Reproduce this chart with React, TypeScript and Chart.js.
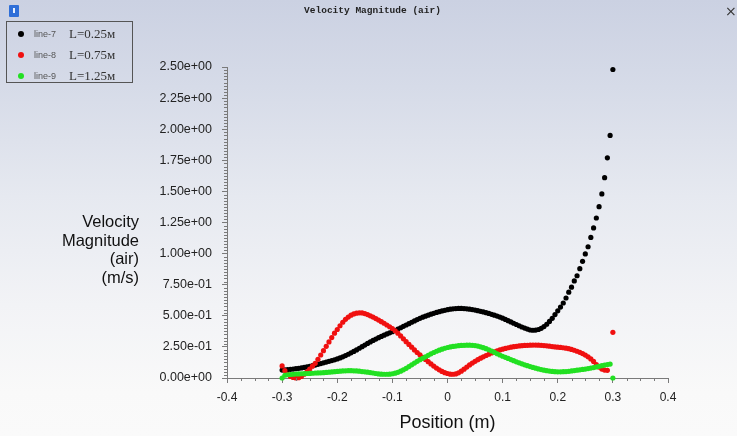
import React, { useEffect, useRef } from 'react';
import { Chart, registerables } from 'chart.js';

Chart.register(...registerables);

// Position along the line (m)
const positions = [
  -0.300, -0.295, -0.290, -0.285, -0.280, -0.275, -0.270, -0.265, -0.260, -0.255,
  -0.250, -0.245, -0.240, -0.235, -0.230, -0.225, -0.220, -0.215, -0.210, -0.205,
  -0.200, -0.195, -0.190, -0.185, -0.180, -0.175, -0.170, -0.165, -0.160, -0.155,
  -0.150, -0.145, -0.140, -0.135, -0.130, -0.125, -0.120, -0.115, -0.110, -0.105,
  -0.100, -0.095, -0.090, -0.085, -0.080, -0.075, -0.070, -0.065, -0.060, -0.055,
  -0.050, -0.045, -0.040, -0.035, -0.030, -0.025, -0.020, -0.015, -0.010, -0.005,
  0.000, 0.005, 0.010, 0.015, 0.020, 0.025, 0.030, 0.035, 0.040, 0.045,
  0.050, 0.055, 0.060, 0.065, 0.070, 0.075, 0.080, 0.085, 0.090, 0.095,
  0.100, 0.105, 0.110, 0.115, 0.120, 0.125, 0.130, 0.135, 0.140, 0.145,
  0.150, 0.155, 0.160, 0.165, 0.170, 0.175, 0.180, 0.185, 0.190, 0.195,
  0.200, 0.205, 0.210, 0.215, 0.220, 0.225, 0.230, 0.235, 0.240, 0.245,
  0.250, 0.255, 0.260, 0.265, 0.270, 0.275, 0.280, 0.285, 0.290, 0.295,
  0.300,
];

// Velocity magnitude (m/s), line-7 (L=0.25m)
const line7: (number | null)[] = [
  0.064, 0.066, 0.068, 0.070, 0.072, 0.075, 0.078, 0.081, 0.085, 0.089,
  0.094, 0.099, 0.104, 0.110, 0.116, 0.122, 0.128, 0.134, 0.140, 0.146,
  0.153, 0.161, 0.170, 0.180, 0.191, 0.202, 0.214, 0.226, 0.239, 0.252,
  0.265, 0.278, 0.290, 0.302, 0.313, 0.324, 0.334, 0.344, 0.354, 0.363,
  0.372, 0.382, 0.393, 0.404, 0.415, 0.426, 0.437, 0.448, 0.459, 0.470,
  0.480, 0.489, 0.497, 0.505, 0.513, 0.520, 0.527, 0.533, 0.539, 0.544,
  0.549, 0.553, 0.556, 0.558, 0.559, 0.559, 0.558, 0.556, 0.553, 0.550,
  0.546, 0.541, 0.536, 0.531, 0.525, 0.519, 0.512, 0.505, 0.498, 0.490,
  0.481, 0.471, 0.461, 0.451, 0.440, 0.430, 0.420, 0.410, 0.401, 0.393,
  0.386, 0.384, 0.385, 0.390, 0.399, 0.413, 0.432, 0.455, 0.480, 0.510,
  0.540, 0.570, 0.603, 0.643, 0.690, 0.730, 0.780, 0.822, 0.879, 0.938,
  0.997, 1.055, 1.130, 1.206, 1.286, 1.377, 1.480, 1.610, 1.770, 1.950,
  2.480,
];

// line-8 (L=0.75m)
const line8: (number | null)[] = [
  0.097, 0.060, 0.030, 0.012, 0.004, 0.000, 0.002, 0.012, 0.030, 0.050,
  0.072, 0.095, 0.118, 0.150, 0.185, 0.220, 0.255, 0.290, 0.325, 0.360,
  0.390, 0.420, 0.448, 0.472, 0.490, 0.505, 0.515, 0.521, 0.524, 0.523,
  0.518, 0.510, 0.500, 0.490, 0.478, 0.466, 0.453, 0.440, 0.426, 0.412,
  0.398, 0.380, 0.360, 0.338, 0.315, 0.292, 0.270, 0.248, 0.226, 0.205,
  0.186, 0.167, 0.149, 0.131, 0.113, 0.096, 0.080, 0.066, 0.053, 0.043,
  0.036, 0.031, 0.030, 0.033, 0.042, 0.055, 0.071, 0.088, 0.105, 0.120,
  0.134, 0.147, 0.159, 0.170, 0.181, 0.191, 0.201, 0.210, 0.218, 0.226,
  0.232, 0.238, 0.243, 0.248, 0.252, 0.255, 0.258, 0.260, 0.262, 0.263,
  0.264, 0.265, 0.265, 0.264, 0.263, 0.261, 0.259, 0.256, 0.253, 0.250,
  0.248, 0.246, 0.243, 0.240, 0.236, 0.230, 0.223, 0.215, 0.206, 0.196,
  0.184, 0.170, 0.153, 0.133, 0.108, 0.088, 0.072, 0.064, 0.062, null,
  0.367,
];

// line-9 (L=1.25m)
const line9: (number | null)[] = [
  0.000, 0.022, 0.026, 0.028, 0.030, 0.032, 0.033, 0.034, 0.035, 0.036,
  0.037, 0.038, 0.040, 0.041, 0.042, 0.043, 0.045, 0.047, 0.049, 0.051,
  0.053, 0.055, 0.057, 0.058, 0.059, 0.059, 0.058, 0.057, 0.055, 0.052,
  0.050, 0.047, 0.044, 0.040, 0.036, 0.033, 0.031, 0.030, 0.030, 0.031,
  0.034, 0.039, 0.046, 0.055, 0.066, 0.078, 0.092, 0.106, 0.120, 0.134,
  0.147, 0.158, 0.170, 0.182, 0.194, 0.205, 0.215, 0.224, 0.232, 0.239,
  0.245, 0.250, 0.254, 0.257, 0.260, 0.262, 0.263, 0.264, 0.264, 0.263,
  0.261, 0.257, 0.251, 0.244, 0.236, 0.227, 0.217, 0.206, 0.195, 0.185,
  0.175, 0.166, 0.157, 0.148, 0.139, 0.130, 0.122, 0.114, 0.106, 0.099,
  0.092, 0.085, 0.079, 0.073, 0.068, 0.063, 0.059, 0.056, 0.053, 0.051,
  0.050, 0.050, 0.051, 0.052, 0.054, 0.057, 0.060, 0.063, 0.066, 0.069,
  0.072, 0.076, 0.080, 0.084, 0.089, 0.094, 0.099, 0.104, 0.108, 0.112,
  0.000,
];

const seriesNames = ['line-7', 'line-8', 'line-9'];
const seriesLabels = ['L=0.25м', 'L=0.75м', 'L=1.25м'];
const seriesValues = [line7, line8, line9];
const seriesColors = ['#000000', '#f01010', '#22e022'];

const xMin = -0.4;
const xMax = 0.4;
const xStep = 0.1;
const yMin = 0;
const yMax = 2.5;
const yStep = 0.25;
const xMinorDiv = 4;
const yMinorDiv = 10;

const chartTitle = 'Velocity Magnitude (air)';
const xTitle = 'Position (m)';
const yTitleLines = ['Velocity', 'Magnitude', '(air)', '(m/s)'];

const axisColor = '#7a7a7a';
const W = 737;
const H = 436;

function fmtExp(v: number): string {
  const s = v.toExponential(2);
  const [m, e] = s.split('e');
  const sign = e[0] === '-' ? '-' : '+';
  const digits = e.replace(/[+-]/, '').padStart(2, '0');
  return `${m}e${sign}${digits}`;
}

const minorTicks = {
  id: 'minorTicks',
  afterDraw(chart: any) {
    const { ctx, scales } = chart;
    const x = scales.x;
    const y = scales.y;
    ctx.save();
    ctx.strokeStyle = axisColor;
    ctx.lineWidth = 1;
    ctx.beginPath();
    const ny = Math.round(((yMax - yMin) / yStep) * yMinorDiv);
    for (let i = 0; i <= ny; i++) {
      if (i % yMinorDiv === 0) continue;
      const py = Math.round(y.getPixelForValue(yMin + (i * yStep) / yMinorDiv)) + 0.5;
      ctx.moveTo(x.left - 3, py);
      ctx.lineTo(x.left, py);
    }
    const nx = Math.round(((xMax - xMin) / xStep) * xMinorDiv);
    for (let i = 0; i <= nx; i++) {
      if (i % xMinorDiv === 0) continue;
      const px = Math.round(x.getPixelForValue(xMin + (i * xStep) / xMinorDiv)) + 0.5;
      ctx.moveTo(px, y.bottom);
      ctx.lineTo(px, y.bottom + 3);
    }
    ctx.stroke();
    ctx.restore();
  },
};

export default function App() {
  const ref = useRef<HTMLCanvasElement | null>(null);

  useEffect(() => {
    if (!ref.current) return;
    const datasets = seriesValues.map((vals, si) => ({
      label: seriesNames[si],
      data: positions
        .map((x, i) => ({ x, y: vals[i] }))
        .filter((p) => p.y !== null),
      backgroundColor: seriesColors[si],
      borderColor: seriesColors[si],
      pointRadius: 2.6,
      pointBorderWidth: 0,
      showLine: false,
      clip: false as any,
      order: 3 - si,
    }));
    const chart = new Chart(ref.current, {
      type: 'scatter',
      data: { datasets: datasets as any },
      options: {
        animation: false,
        responsive: false,
        devicePixelRatio: 1,
        layout: { padding: { top: 67, right: 69, bottom: 0, left: 0 } },
        plugins: {
          legend: { display: false },
          tooltip: { enabled: false },
          title: { display: false },
        },
        scales: {
          x: {
            type: 'linear',
            min: xMin,
            max: xMax,
            afterFit(scale: any) {
              scale.height = 58;
            },
            ticks: {
              stepSize: xStep,
              autoSkip: false,
              maxRotation: 0,
              padding: 7,
              color: '#222',
              font: { family: 'Liberation Sans', size: 12 },
              callback: (v: any) => String(Math.round(Number(v) * 10) / 10),
            },
            grid: {
              display: true,
              drawOnChartArea: false,
              drawTicks: true,
              tickLength: 5,
              color: axisColor,
            },
            border: { display: true, color: axisColor, width: 1 },
            title: {
              display: true,
              text: xTitle,
              color: '#111',
              font: { family: 'Liberation Sans', size: 18, lineHeight: 1.2 },
              padding: { top: 0, bottom: 2 },
            },
          },
          y: {
            type: 'linear',
            min: yMin,
            max: yMax,
            afterFit(scale: any) {
              scale.width = 227;
            },
            ticks: {
              stepSize: yStep,
              autoSkip: false,
              padding: 10,
              color: '#222',
              font: { family: 'Liberation Sans', size: 12.5 },
              callback: (v: any) => fmtExp(Number(v)),
            },
            grid: {
              display: true,
              drawOnChartArea: false,
              drawTicks: true,
              tickLength: 5,
              color: axisColor,
            },
            border: { display: true, color: axisColor, width: 1 },
          },
        },
      },
      plugins: [minorTicks],
    });
    return () => chart.destroy();
  }, []);

  return (
    <div
      style={{
        position: 'fixed',
        left: 0,
        top: 0,
        width: W,
        height: H,
        overflow: 'hidden',
        background:
          'linear-gradient(180deg, #cbd1e2 0%, #d6dbe8 20%, #e6e9f0 45%, #f2f3f6 70%, #f9f9f9 90%, #fafafa 100%)',
      }}
    >
      <canvas
        ref={ref}
        width={W}
        height={H}
        style={{ position: 'absolute', left: 0, top: 0, width: W, height: H }}
      />
      {/* window icon */}
      <div
        style={{
          position: 'absolute',
          left: 9,
          top: 5,
          width: 10,
          height: 12,
          background: '#2f6fd8',
          borderRadius: 1,
        }}
      >
        <div style={{ position: 'absolute', left: 4, top: 3, width: 2, height: 5, background: '#e8f0ff' }} />
      </div>
      {/* title */}
      <div
        style={{
          position: 'absolute',
          left: 0,
          top: 4,
          width: W,
          textAlign: 'center',
          fontFamily: 'Liberation Mono, DejaVu Sans Mono, monospace',
          fontWeight: 'bold',
          fontSize: 9.5,
          lineHeight: '14px',
          color: '#222',
          paddingLeft: 8,
          boxSizing: 'border-box',
        }}
      >
        {chartTitle}
      </div>
      <div
        style={{
          position: 'absolute',
          left: 725,
          top: 3,
          fontFamily: 'DejaVu Sans, sans-serif',
          fontSize: 14,
          lineHeight: '16px',
          color: '#333',
        }}
      >
        ×
      </div>
      {/* legend */}
      <div
        style={{
          position: 'absolute',
          left: 6,
          top: 21,
          width: 127,
          height: 62,
          border: '1px solid #555',
          boxSizing: 'border-box',
        }}
      >
        {seriesNames.map((n, i) => (
          <div key={n} style={{ position: 'absolute', left: 0, top: 2 + i * 21, height: 20, width: 124 }}>
            <div
              style={{
                position: 'absolute',
                left: 11,
                top: 7,
                width: 6,
                height: 6,
                borderRadius: 3,
                background: seriesColors[i],
              }}
            />
            <div
              style={{
                position: 'absolute',
                left: 27,
                top: 3,
                fontFamily: 'Liberation Sans, Arial, sans-serif',
                fontSize: 9,
                lineHeight: '14px',
                color: '#555',
              }}
            >
              {n}
            </div>
            <div
              style={{
                position: 'absolute',
                left: 62,
                top: 1,
                fontFamily: 'Liberation Serif, Times New Roman, serif',
                fontSize: 13,
                lineHeight: '17px',
                color: '#333',
              }}
            >
              {seriesLabels[i]}
            </div>
          </div>
        ))}
      </div>
      {/* y axis title */}
      <div
        style={{
          position: 'absolute',
          left: 0,
          top: 212,
          width: 139,
          textAlign: 'right',
          fontFamily: 'Liberation Sans, Arial, sans-serif',
          fontSize: 16.5,
          lineHeight: '18.5px',
          color: '#111',
        }}
      >
        {yTitleLines.map((l) => (
          <div key={l}>{l}</div>
        ))}
      </div>
    </div>
  );
}
